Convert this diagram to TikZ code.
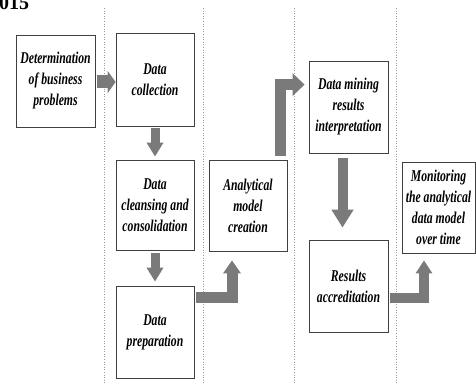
\documentclass[tikz,border=0pt]{standalone}
\usepackage{fontspec}
\setmainfont{Liberation Serif}
\newfontfamily\condfont{Liberation Serif}[FakeStretch=0.71]
\usetikzlibrary{arrows.meta,calc}
\begin{document}
\begin{tikzpicture}[x=1pt,y=-1pt,
  stepbox/.style={draw=black!75, line width=0.8pt, fill=white, inner sep=0pt,
    minimum width=78pt, minimum height=92pt, align=center,
    font=\condfont\bfseries\itshape\fontsize{16.5}{21}\selectfont},
  barrow/.style n args={3}{draw=black!52, line width=#1, line cap=butt, line join=miter,
    -{Triangle[width=#2,length=#3]}},
  sepline/.style={draw=black!40, line width=0.8pt, dash pattern=on 1pt off 1.6pt}
]
\useasboundingbox (0,0) rectangle (476,385);
\clip (0,0) rectangle (476,385);
% partial year text at top left
\node[anchor=base west, inner sep=0pt, font=\bfseries\fontsize{20}{20}\selectfont] (yr) at (-1,9.5) {015};
% separators
\foreach \xx in {104,203,294,396} \draw[sepline] (\xx,8) -- (\xx,385);
% boxes
\node[stepbox, minimum width=79pt] (det) at (55.5,81) {Determination\\of business\\problems};
\node[stepbox, minimum height=93pt] (col) at (155,79.5) {Data\\collection};
\node[stepbox, minimum height=90pt] (cle) at (155,205) {Data\\cleansing and\\consolidation};
\node[stepbox] (prep) at (155,332) {Data\\preparation};
\node[stepbox, minimum height=91pt] (ana) at (248,205.5) {Analytical\\model\\creation};
\node[stepbox, minimum width=79pt] (dm) at (348.5,107) {Data mining\\results\\interpretation};
\node[stepbox, minimum width=79pt] (res) at (348.5,286) {Results\\accreditation};
\node[stepbox, minimum width=73pt, minimum height=91pt] (mon) at (438.5,207.5) {Monitoring\\the analytical\\data model\\over time};
% arrows
\draw[barrow={13pt}{22pt}{8pt}] ([shift={(2pt,-1pt)}]det.east) -- ([yshift=-1pt]det.east -| col.west);
\draw[barrow={9pt}{16pt}{14pt}] ([yshift=-2pt]col.south) -- ([yshift=3pt]cle.north);
\draw[barrow={9pt}{16pt}{14pt}] ([yshift=-3pt]cle.south) -- ([yshift=4pt]prep.north);
\draw[barrow={11pt}{17pt}{13pt}] ([shift={(2pt,-12pt)}]prep.north east) -| ([shift={(-16pt,-9pt)}]ana.south);
\draw[barrow={11pt}{22pt}{12pt}] ([shift={(32pt,4pt)}]ana.north) |- ([shift={(-4pt,-24pt)}]dm.north west);
\draw[barrow={10pt}{21pt}{18pt}] ([shift={(-6pt,-5pt)}]dm.south) -- ([shift={(-6pt,12pt)}]res.north);
\draw[barrow={10pt}{16pt}{13pt}] ([shift={(2pt,-58pt)}]res.north east) -| ([shift={(-14.5pt,-7pt)}]mon.south);
\end{tikzpicture}
\end{document}
